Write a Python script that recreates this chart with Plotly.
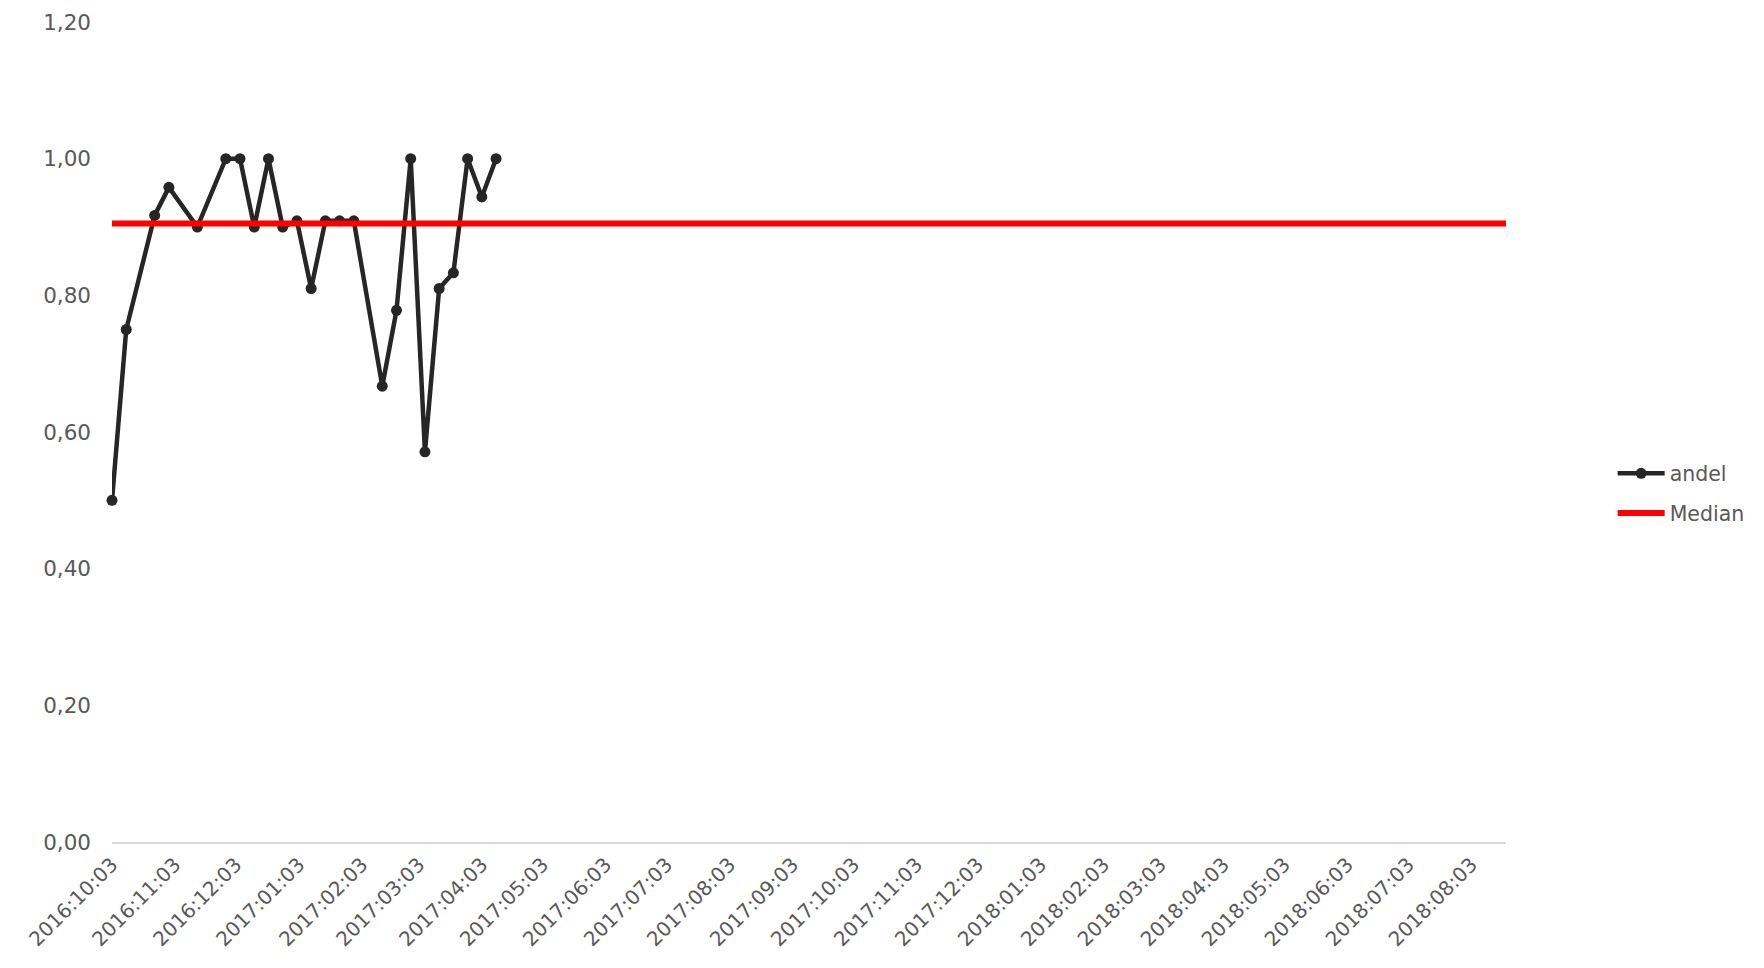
import plotly.graph_objects as go

# Data
dates = ["2016-10-03", "2016-10-10", "2016-10-24", "2016-10-31", "2016-11-14",
         "2016-11-28", "2016-12-05", "2016-12-12", "2016-12-19", "2016-12-26",
         "2017-01-02", "2017-01-09", "2017-01-16", "2017-01-23", "2017-01-30",
         "2017-02-13", "2017-02-20", "2017-02-27", "2017-03-06", "2017-03-13",
         "2017-03-20", "2017-03-27", "2017-04-03", "2017-04-10"]
andel = [0.50, 0.75, 0.917, 0.958, 0.90,
         1.00, 1.00, 0.90, 1.00, 0.90,
         0.909, 0.81, 0.909, 0.909, 0.909,
         0.667, 0.778, 1.00, 0.571, 0.81,
         0.833, 1.00, 0.944, 1.00]

median_dates = ["2016-10-03", "2018-08-20"]
median_vals = [0.905, 0.905]

tick_dates = ["2016-10-03", "2016-11-03", "2016-12-03", "2017-01-03", "2017-02-03",
              "2017-03-03", "2017-04-03", "2017-05-03", "2017-06-03", "2017-07-03",
              "2017-08-03", "2017-09-03", "2017-10-03", "2017-11-03", "2017-12-03",
              "2018-01-03", "2018-02-03", "2018-03-03", "2018-04-03", "2018-05-03",
              "2018-06-03", "2018-07-03", "2018-08-03"]
tick_labels = [d.replace("-", ":") for d in tick_dates]

y_ticks = [0.0, 0.2, 0.4, 0.6, 0.8, 1.0, 1.2]
y_labels = ["0,00", "0,20", "0,40", "0,60", "0,80", "1,00", "1,20"]

FONT = "Verdana, DejaVu Sans, sans-serif"
GREY = "#595959"
FS = 21.5

fig = go.Figure()
fig.add_trace(go.Scatter(
    x=dates, y=andel, name="andel", mode="lines+markers", legendgroup="a",
    line=dict(color="#262626", width=4.5),
    marker=dict(color="#262626", size=11),
    cliponaxis=False,
))
fig.add_trace(go.Scatter(
    x=median_dates, y=median_vals, name="Median", mode="lines", legendgroup="b",
    line=dict(color="#ff0000", width=6),
    cliponaxis=False,
))

fig.update_layout(
    width=1756, height=952,
    margin=dict(l=104, r=258, t=14, b=118),
    paper_bgcolor="white", plot_bgcolor="white",
    font=dict(family=FONT, size=FS, color=GREY),
    legend=dict(x=1.0765, y=0.425, xanchor="left", yanchor="middle",
                font=dict(family=FONT, size=20.5, color=GREY),
                itemwidth=47, tracegroupgap=10, bgcolor="rgba(0,0,0,0)"),
    xaxis=dict(
        type="date", range=["2016-10-03", "2018-08-20"],
        tickmode="array", tickvals=tick_dates, ticktext=tick_labels,
        tickangle=-45, showgrid=False, zeroline=False,
        showline=True, linecolor="#d9d9d9", linewidth=2,
        ticks="", ticklabelstandoff=1, automargin=False,
        tickfont=dict(family=FONT, size=20, color=GREY),
    ),
    yaxis=dict(
        range=[0, 1.2], tickmode="array", tickvals=y_ticks, ticktext=y_labels,
        showgrid=False, zeroline=False, showline=False, ticks="",
        ticklabelstandoff=20, automargin=False,
        tickfont=dict(family=FONT, size=FS, color=GREY),
    ),
)

fig.write_html("out.html")
